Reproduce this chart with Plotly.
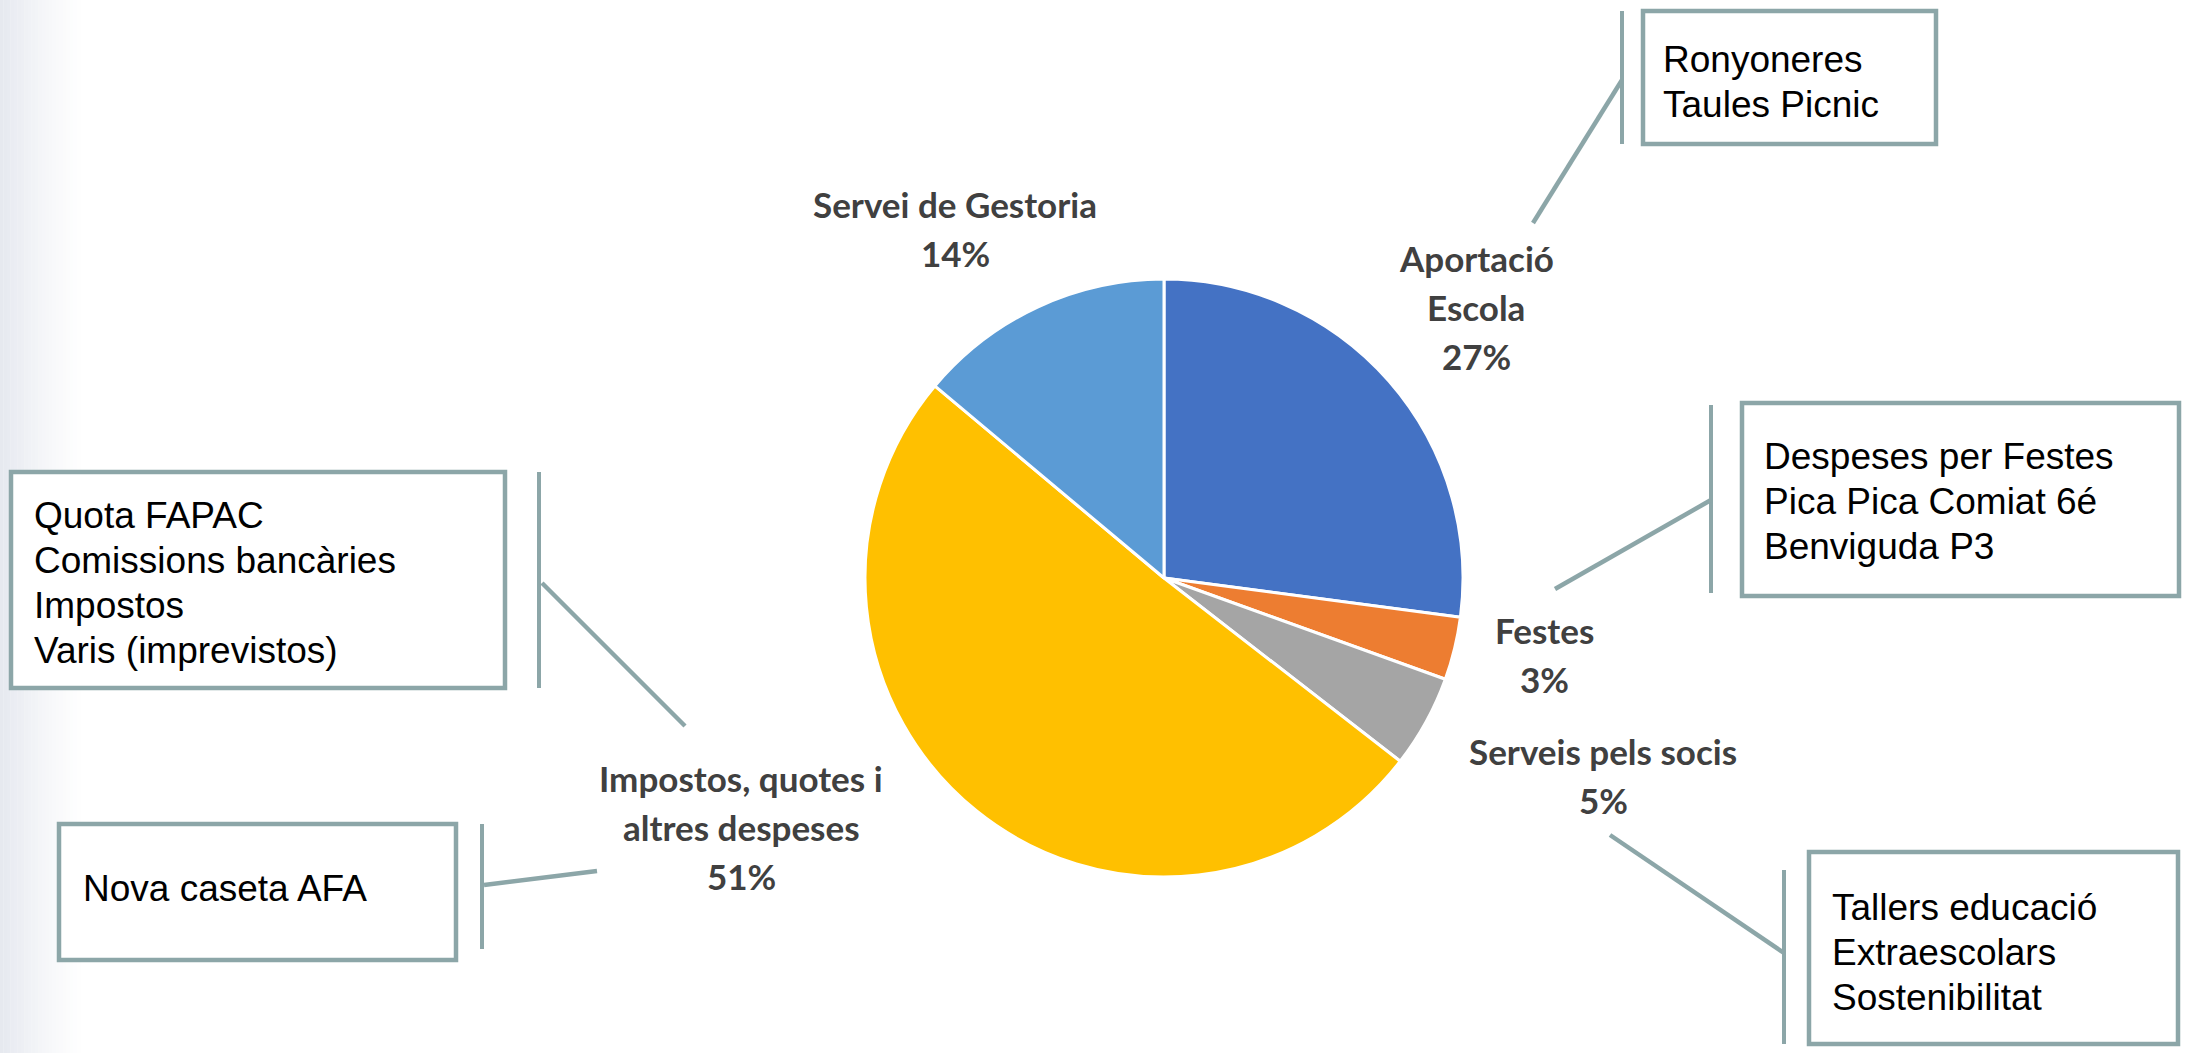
import plotly.graph_objects as go

W, H = 2189, 1053

# ---- data ----
categories = ["Aportació Escola", "Festes", "Serveis pels socis",
              "Impostos, quotes i altres despeses", "Servei de Gestoria"]
label_lines = [["Aportació", "Escola"], ["Festes"], ["Serveis pels socis"],
               ["Impostos, quotes i", "altres despeses"], ["Servei de Gestoria"]]
values = [27.1, 3.4, 5.0, 50.6, 13.9]
colors = ["#4472C4", "#ED7D31", "#A5A5A5", "#FFC000", "#5B9BD5"]

callout_texts = [
    ["Quota FAPAC", "Comissions bancàries", "Impostos", "Varis (imprevistos)"],
    ["Nova caseta AFA"],
    ["Ronyoneres", "Taules Picnic"],
    ["Despeses per Festes", "Pica Pica Comiat 6é", "Benviguda P3"],
    ["Tallers educació", "Extraescolars", "Sostenibilitat"],
]

# ---- layout (pixel positions) ----
cx, cy, R = 1164, 578, 299
label_pos = [(1476, 258), (1544, 630), (1603, 751), (741, 778), (955, 204)]
label_gap = 49

# box: (x0, y0, x1, y1), text x, first line y, bracket x, bracket y0, y1, leader line
boxes = [
    dict(rect=(11, 472, 505, 688), tx=32, ty=515, bx=539, by=(472, 688), line=((542, 583), (685, 726))),
    dict(rect=(59, 824, 456, 960), tx=81, ty=888, bx=482, by=(824, 949), line=((484, 885), (597, 871))),
    dict(rect=(1643, 11, 1936, 144), tx=1661, ty=59, bx=1622, by=(11, 144), line=((1622, 80), (1533, 223))),
    dict(rect=(1742, 403, 2179, 596), tx=1762, ty=456, bx=1711, by=(405, 593), line=((1711, 500), (1555, 589))),
    dict(rect=(1809, 852, 2178, 1044), tx=1830, ty=907, bx=1784, by=(870, 1044), line=((1610, 835), (1784, 953))),
]
box_gap = 45
edge = "#8CA6A8"

fig = go.Figure()
fig.add_trace(go.Pie(
    labels=categories, values=values, sort=False, direction="clockwise",
    rotation=0, textinfo="none", hoverinfo="label+percent",
    marker=dict(colors=colors, line=dict(color="white", width=3)),
    domain=dict(x=[(cx - R) / W, (cx + R) / W], y=[1 - (cy + R) / H, 1 - (cy - R) / H]),
    showlegend=False,
))

shapes = []
# left-edge soft gradient
n = 24
for i in range(n):
    shapes.append(dict(type="rect", xref="x", yref="y", x0=i * 3.5, x1=(i + 1) * 3.5, y0=0, y1=H,
                       fillcolor="#DDE1EA", opacity=0.75 * (1 - i / n) ** 1.3, line=dict(width=0), layer="below"))

annotations = []
total = sum(values)
for lines, (lx, ly), v in zip(label_lines, label_pos, values):
    all_lines = lines + [f"{round(v / total * 100)}%"]
    for k, t in enumerate(all_lines):
        annotations.append(dict(x=lx, y=ly + k * label_gap, xref="x", yref="y", text=t, showarrow=False,
                                xanchor="center", yanchor="middle",
                                font=dict(family="Lato", size=35, color="#404040", weight=700)))

for b, texts in zip(boxes, callout_texts):
    x0, y0, x1, y1 = b["rect"]
    shapes.append(dict(type="rect", xref="x", yref="y", x0=x0, y0=y0, x1=x1, y1=y1,
                       line=dict(color=edge, width=4.5), fillcolor="white"))
    shapes.append(dict(type="line", xref="x", yref="y", x0=b["bx"], x1=b["bx"], y0=b["by"][0], y1=b["by"][1],
                       line=dict(color=edge, width=4)))
    (ax, ay), (bx2, by2) = b["line"]
    shapes.append(dict(type="line", xref="x", yref="y", x0=ax, y0=ay, x1=bx2, y1=by2,
                       line=dict(color=edge, width=4.5)))
    for k, t in enumerate(texts):
        annotations.append(dict(x=b["tx"], y=b["ty"] + k * box_gap, xref="x", yref="y", text=t, showarrow=False,
                                xanchor="left", yanchor="middle",
                                font=dict(family="Liberation Sans, Arial", size=37, color="#000000")))

fig.update_layout(
    width=W, height=H, margin=dict(l=0, r=0, t=0, b=0),
    paper_bgcolor="white", plot_bgcolor="rgba(0,0,0,0)",
    xaxis=dict(range=[0, W], visible=False, fixedrange=True),
    yaxis=dict(range=[H, 0], visible=False, fixedrange=True),
    shapes=shapes, annotations=annotations,
)

fig.write_html("out.html", config={"displayModeBar": False})
